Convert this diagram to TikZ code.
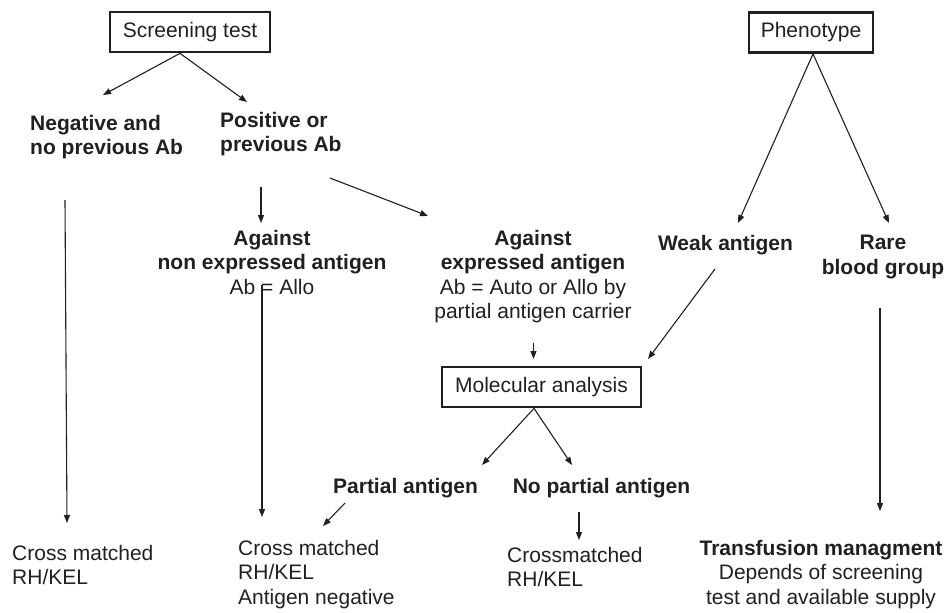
\documentclass[tikz,border=0pt]{standalone}
\usepackage{fontspec}
\setmainfont{Liberation Sans}
\usetikzlibrary{arrows.meta}
\definecolor{ink}{HTML}{231F20}
\begin{document}
\begin{tikzpicture}[x=1pt,y=-1pt,
  every node/.style={text=ink, font=\fontsize{21}{24.5}\selectfont},
  bf/.style={font=\fontsize{21}{24.5}\selectfont\bfseries},
  box/.style={draw=ink, line width=2.7pt, minimum height=40pt, inner sep=0pt},
  lbl/.style={inner sep=0pt, align=center, anchor=north},
  lbll/.style={inner sep=0pt, align=left, anchor=north west},
  arr/.style={draw=ink, line width=1.1pt, -{Triangle[length=8pt,width=6pt]}}
]
\useasboundingbox (0,0) rectangle (946,613);

% boxes
\node[box, minimum width=160pt] (screen) at (190,32) {Screening test};
\node[box, minimum width=124pt] (pheno) at (811,32.5) {Phenotype};
\node[box, minimum width=199pt] (mol) at (541.5,387) {Molecular analysis};

% labels
\node[lbll, bf] (neg) at (30,115) {Negative and\\no previous Ab};
\node[lbll, bf] (pos) at (220,112) {Positive or\\previous Ab};
\node[lbl, bf] (anon) at (272,230) {Against\\non expressed antigen\\\mdseries Ab = Allo};
\node[lbl, bf] (aexp) at (533,230) {Against\\expressed antigen\\\mdseries Ab = Auto or Allo by\\\mdseries partial antigen carrier};
\node[lbl, bf] (weak) at (725.5,235) {Weak antigen};
\node[lbl, bf] (rare) at (883,235) {Rare\\blood group};
\node[lbl, bf] (part) at (405.5,478) {Partial antigen};
\node[lbl, bf] (nopart) at (601.5,478) {No partial antigen};
\node[lbll] (cm1) at (12,545) {Cross matched\\RH/KEL};
\node[lbll] (cm2) at (238,540) {Cross matched\\RH/KEL\\Antigen negative};
\node[lbll] (cm3) at (507,547) {Crossmatched\\RH/KEL};
\node[lbl] (trans) at (821,540) {\bfseries Transfusion managment\\Depends of screening\\test and available supply};

% connector end points
\coordinate (negtip) at (103,95);
\coordinate (postip) at (247,102);
\coordinate (negfrom) at (65,200);
\coordinate (cm1tip) at (67,523);
\coordinate (posdown) at (261,187);
\coordinate (anontip) at (261,223);
\coordinate (posdiag) at (330,178);
\coordinate (aexptip) at (428,216);
\coordinate (allofrom) at (262,285);
\coordinate (cm2tip) at (262,517);
\coordinate (aexpfrom) at (533.5,343);
\coordinate (moltipa) at (533.5,359);
\coordinate (weakfrom) at (715,269);
\coordinate (moltipb) at (648,359);
\coordinate (parttip) at (482,465);
\coordinate (noparttip) at (572,465);
\coordinate (partfrom) at (345,503);
\coordinate (partto) at (323,526);
\coordinate (nopartfrom) at (579,512);
\coordinate (cm3tip) at (579,540);
\coordinate (weaktip) at (738,223);
\coordinate (raretip) at (889,223);
\coordinate (rarefrom) at (880,308);
\coordinate (transtip) at (880,511);

% connectors
\draw[arr] ([xshift=-10pt]screen.south) -- (negtip);
\draw[arr] ([xshift=-10pt]screen.south) -- (postip);
\draw[arr] (negfrom) -- (cm1tip);
\draw[arr] (posdown) -- (anontip);
\draw[arr] (posdiag) -- (aexptip);
\draw[arr] (allofrom) -- (cm2tip);
\draw[arr] (aexpfrom) -- (moltipa);
\draw[arr] (weakfrom) -- (moltipb);
\draw[arr] ([xshift=-7.5pt]mol.south) -- (parttip);
\draw[arr] ([xshift=-7.5pt]mol.south) -- (noparttip);
\draw[arr] (partfrom) -- (partto);
\draw[arr] (nopartfrom) -- (cm3tip);
\draw[arr] ([xshift=2pt]pheno.south) -- (weaktip);
\draw[arr] ([xshift=2pt]pheno.south) -- (raretip);
\draw[arr] (rarefrom) -- (transtip);
\end{tikzpicture}
\end{document}
